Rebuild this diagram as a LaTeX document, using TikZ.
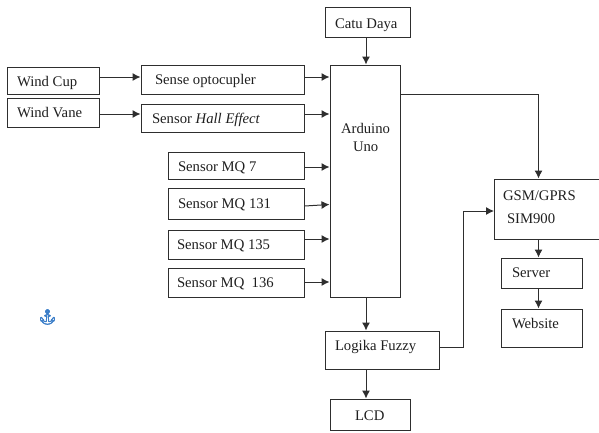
\documentclass[tikz,border=0pt]{standalone}
\usepackage{fontspec}
\setmainfont{Liberation Serif}
\newfontfamily\symfont[FakeBold=2.5]{Noto Emoji}
\usetikzlibrary{arrows.meta}
\definecolor{inkline}{gray}{0.18}
\definecolor{inktext}{gray}{0.12}
\definecolor{anchorblue}{RGB}{58,125,200}
\newcommand{\TL}[3]{\pgfmathsetlengthmacro{\dxx}{#1-\cx}\pgfmathsetlengthmacro{\dyy}{\cy-#2}\smash{\rlap{\kern\dxx\raisebox{\dyy}{#3}}}}
\newcommand{\BX}[6]{%
  \pgfmathsetmacro{\cx}{(#2+#4)/2}\pgfmathsetmacro{\cy}{(#3+#5)/2}%
  \pgfmathsetmacro{\ww}{#4-#2}\pgfmathsetmacro{\hh}{#5-#3}%
  \node[blockbox,minimum width=\ww pt,minimum height=\hh pt] (#1) at (\cx,\cy) {#6};}
\tikzset{
  blockbox/.style={draw=inkline,line width=1pt,inner sep=0pt,text=inktext,font=\fontsize{14.7}{16}\selectfont},
  link/.style={draw=inkline,line width=1pt},
  linkarrow/.style={link,-{Latex[length=8pt,width=8pt]}}
}
\begin{document}
\begin{tikzpicture}[x=1pt,y=-1pt]
\useasboundingbox (0,0) rectangle (599,432);
\BX{windcup}{7}{67}{99}{94}{\TL{17}{86}{Wind Cup}}
\BX{windvane}{7}{98}{99}{127}{\TL{17}{117}{Wind Vane}}
\BX{sense}{141}{65}{304}{94}{\TL{155}{84}{Sense optocupler}}
\BX{hall}{141}{104}{304}{132}{\TL{152}{123}{Sensor \textit{Hall Effect}}}
\BX{mqa}{168.5}{152}{304}{179}{\TL{178}{171}{Sensor MQ 7}}
\BX{mqb}{168.5}{188.5}{304}{219.5}{\TL{178}{208}{Sensor MQ 131}}
\BX{mqc}{168}{230}{304}{259}{\TL{177}{249}{Sensor MQ 135}}
\BX{mqd}{168}{268}{304}{297}{\TL{177}{287}{Sensor MQ\ \ 136}}
\BX{arduino}{330}{65}{400}{297}{\TL{341}{133}{Arduino}\TL{353}{151}{Uno}}
\BX{catu}{325}{7}{410}{37}{\TL{335}{28}{Catu Daya}}
\BX{fuzzy}{325}{331}{439}{369}{\TL{335}{350}{Logika Fuzzy}}
\BX{lcd}{330}{399}{410}{430}{\TL{355}{420}{LCD}}
\BX{gsm}{494.5}{179}{603}{239}{\TL{503}{200}{GSM/GPRS}\TL{507}{223}{SIM900}}
\BX{server}{501.5}{258}{582}{288}{\TL{512}{277}{Server}}
\BX{website}{501.5}{309}{582}{347}{\TL{512}{328}{Website}}
\node[text=anchorblue,inner sep=0pt,font=\symfont\fontsize{15}{15}\selectfont] (anchoricon) at (47.5,317) {⚓};
\draw[linkarrow] (windcup.east |- 0,77) -- (sense.west |- 0,77);
\draw[linkarrow] (windvane.east |- 0,114) -- (hall.west |- 0,114);
\draw[linkarrow] (sense.east |- 0,77) -- (arduino.west |- 0,77);
\draw[linkarrow] (hall.east |- 0,114) -- (arduino.west |- 0,114);
\draw[linkarrow] (mqa.east |- 0,167) -- (arduino.west |- 0,167);
\draw[linkarrow] (mqb.east |- 0,206) -- (arduino.west |- 0,204.5);
\draw[linkarrow] (mqc.east |- 0,239) -- (arduino.west |- 0,239);
\draw[linkarrow] (mqd.east |- 0,282) -- (arduino.west |- 0,282);
\draw[linkarrow] (catu.south -| 366,0) -- (arduino.north -| 366,0);
\draw[linkarrow] (arduino.south -| 366,0) -- (fuzzy.north -| 366,0);
\draw[linkarrow] (fuzzy.south -| 366,0) -- (lcd.north -| 366,0);
\draw[linkarrow] (arduino.east |- 0,94) -| (gsm.north -| 538.5,0);
\draw[linkarrow] (fuzzy.east |- 0,347) -- (463,347) |- (gsm.west |- 0,211);
\draw[linkarrow] (gsm.south -| 538.5,0) -- (server.north -| 538.5,0);
\draw[linkarrow] (server.south -| 538.5,0) -- (website.north -| 538.5,0);
\end{tikzpicture}
\end{document}
